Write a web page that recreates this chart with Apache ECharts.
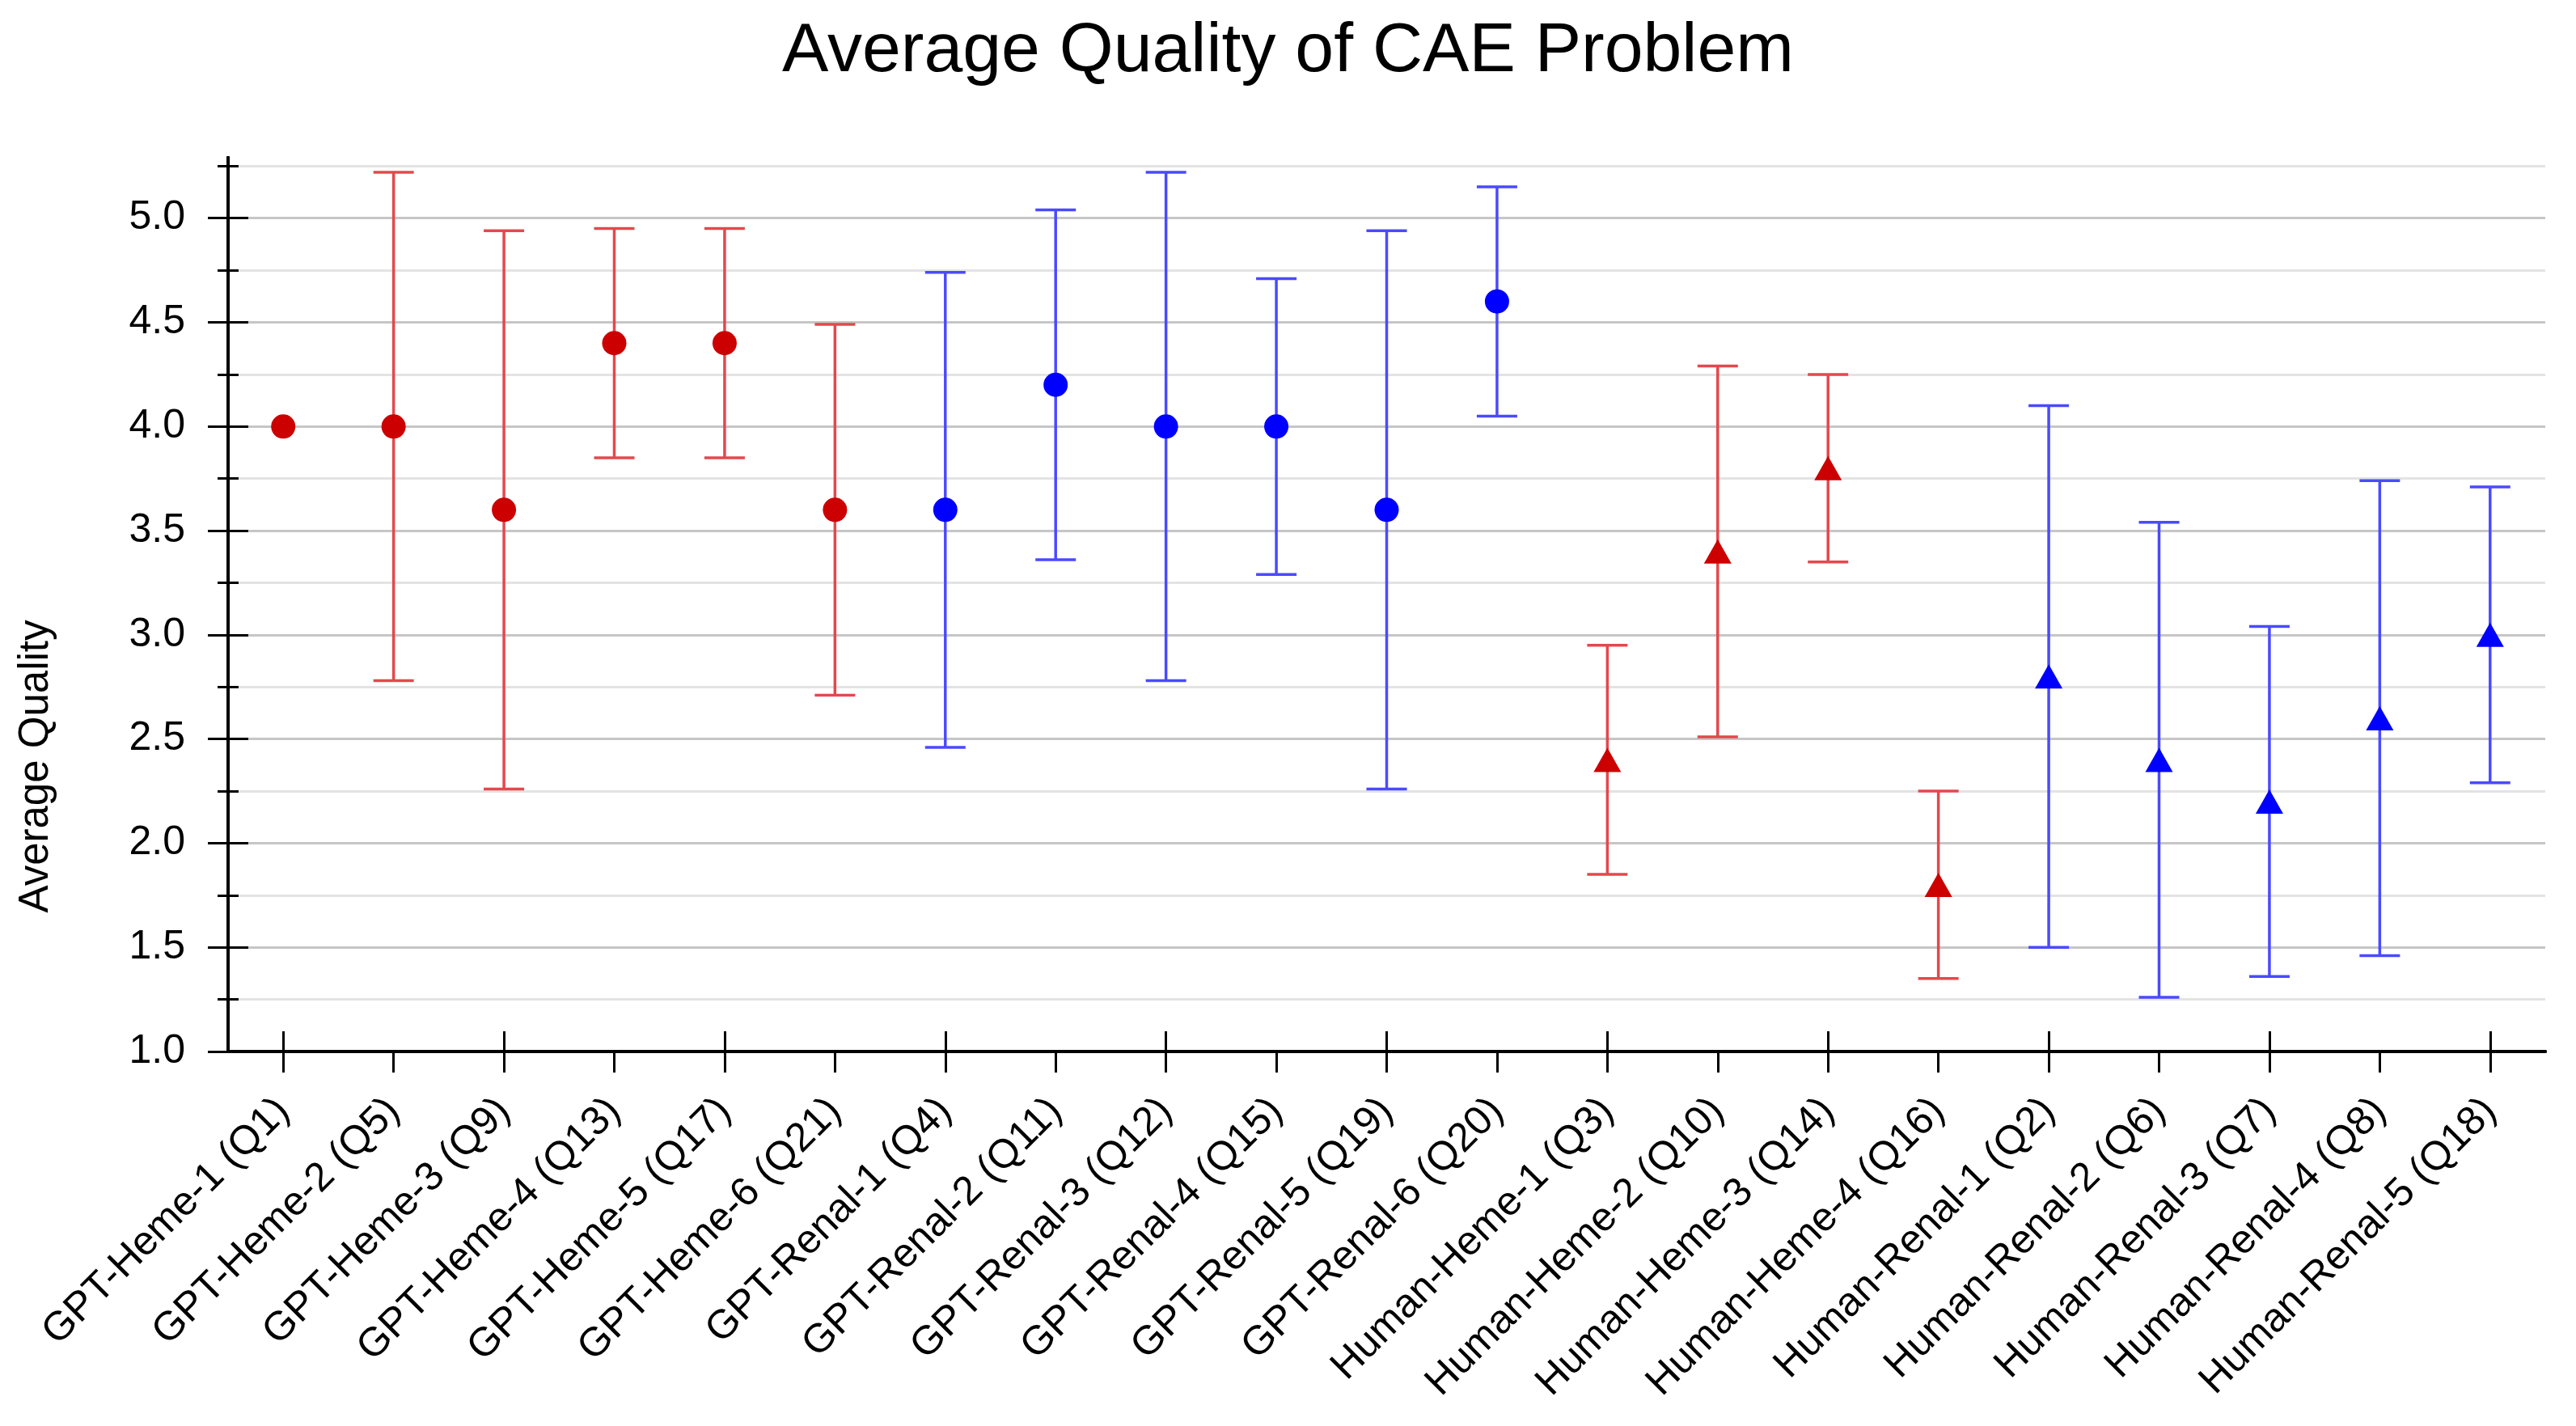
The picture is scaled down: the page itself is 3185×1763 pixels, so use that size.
<!DOCTYPE html>
<html>
<head>
<meta charset="utf-8">
<script src="https://cdn.jsdelivr.net/npm/echarts@6/dist/echarts.min.js"></script>
<style>
html,body{margin:0;padding:0;background:#ffffff;}
#chart{width:3185px;height:1763px;}
</style>
</head>
<body>
<div id="chart"></div>
<script>
// ---------------- data ----------------
const categories = [
  'GPT-Heme-1 (Q1)', 'GPT-Heme-2 (Q5)', 'GPT-Heme-3 (Q9)', 'GPT-Heme-4 (Q13)', 'GPT-Heme-5 (Q17)', 'GPT-Heme-6 (Q21)',
  'GPT-Renal-1 (Q4)', 'GPT-Renal-2 (Q11)', 'GPT-Renal-3 (Q12)', 'GPT-Renal-4 (Q15)', 'GPT-Renal-5 (Q19)', 'GPT-Renal-6 (Q20)',
  'Human-Heme-1 (Q3)', 'Human-Heme-2 (Q10)', 'Human-Heme-3 (Q14)', 'Human-Heme-4 (Q16)',
  'Human-Renal-1 (Q2)', 'Human-Renal-2 (Q6)', 'Human-Renal-3 (Q7)', 'Human-Renal-4 (Q8)', 'Human-Renal-5 (Q18)'
];
const groups = [
  'GPT-Heme', 'GPT-Heme', 'GPT-Heme', 'GPT-Heme', 'GPT-Heme', 'GPT-Heme',
  'GPT-Renal', 'GPT-Renal', 'GPT-Renal', 'GPT-Renal', 'GPT-Renal', 'GPT-Renal',
  'Human-Heme', 'Human-Heme', 'Human-Heme', 'Human-Heme',
  'Human-Renal', 'Human-Renal', 'Human-Renal', 'Human-Renal', 'Human-Renal'
];
const means   = [4.0, 4.0, 3.6, 4.4, 4.4, 3.6,  3.6, 4.2, 4.0, 4.0, 3.6, 4.6,  2.4, 3.4, 3.8, 1.8,  2.8, 2.4, 2.2, 2.6, 3.0];
const errLow  = [null, 2.78, 2.26, 3.85, 3.85, 2.71,  2.46, 3.36, 2.78, 3.29, 2.26, 4.05,  1.85, 2.51, 3.35, 1.35,  1.50, 1.26, 1.36, 1.46, 2.29];
const errHigh = [null, 5.22, 4.94, 4.95, 4.95, 4.49,  4.74, 5.04, 5.22, 4.71, 4.94, 5.15,  2.95, 4.29, 4.25, 2.25,  4.10, 3.54, 3.04, 3.74, 3.71];
const groupNames = ['GPT-Heme', 'GPT-Renal', 'Human-Heme', 'Human-Renal'];
const yMajorTicks = [1.0, 1.5, 2.0, 2.5, 3.0, 3.5, 4.0, 4.5, 5.0];
const yMinorTicks = [1.25, 1.75, 2.25, 2.75, 3.25, 3.75, 4.25, 4.75, 5.25];
const yMin = 1.0;
const yMax = 5.29;

// ---------------- styles ----------------
const FONT = "'Liberation Sans', Arial, Helvetica, sans-serif";
const groupStyle = {
  'GPT-Heme':    { symbol: 'circle',   size: 30,       marker: '#cc0000', bar: '#e4484d' },
  'GPT-Renal':   { symbol: 'circle',   size: 30,       marker: '#0000ff', bar: '#4a4aff' },
  'Human-Heme':  { symbol: 'triangle', size: [34, 30], marker: '#cc0000', bar: '#e4484d' },
  'Human-Renal': { symbol: 'triangle', size: [34, 30], marker: '#0000ff', bar: '#4a4aff' }
};

function makeY(ticks, len, inside, extra) {
  return Object.assign({
    type: 'value', position: 'left', offset: 0, min: yMin, max: yMax,
    axisLine: { show: true, lineStyle: { color: '#000', width: 4 } },
    axisTick: { show: true, inside: inside, length: len, customValues: ticks, lineStyle: { color: '#000', width: 3 } },
    axisLabel: { show: false },
    splitLine: { show: false }
  }, extra || {});
}

const yAxes = [
  makeY(yMajorTicks, 25, false, {
    name: 'Average Quality',
    nameLocation: 'middle',
    nameGap: 212,
    nameTextStyle: { fontSize: 51, color: '#000', fontFamily: FONT, padding: [0, 400, 0, 0] },
    axisLabel: { show: true, customValues: yMajorTicks, formatter: v => v.toFixed(1), fontSize: 50, color: '#000', fontFamily: FONT, margin: 53 },
    splitLine: { show: true, lineStyle: { color: '#c6c6c6', width: 3 } }
  }),
  makeY(yMinorTicks, 13, false, { splitLine: { show: true, lineStyle: { color: '#e3e3e3', width: 3 } } }),
  makeY(yMajorTicks, 25, true),
  makeY(yMinorTicks, 13, true)
];

const xBase = {
  type: 'category', data: categories, position: 'bottom', boundaryGap: true,
  axisLine: { show: true, lineStyle: { color: '#000', width: 4 } },
  splitLine: { show: false }
};
const xAxes = [
  Object.assign({}, xBase, {
    axisTick: { show: true, alignWithLabel: true, length: 26, lineStyle: { color: '#000', width: 3 } },
    axisLabel: { show: true, interval: 0, rotate: 45, fontSize: 50, color: '#000', fontFamily: FONT, margin: 66, padding: [64, 0, 0, 0] }
  }),
  Object.assign({}, xBase, {
    axisTick: { show: true, inside: true, alignWithLabel: true, length: 25, lineStyle: { color: '#000', width: 3 } },
    axisLabel: { show: false }
  })
];

const series = [];
groupNames.forEach(g => {
  const st = groupStyle[g];
  const barData = [];
  categories.forEach((c, i) => {
    if (groups[i] === g && errLow[i] !== null) barData.push([i, errLow[i], errHigh[i]]);
  });
  series.push({
    type: 'custom', name: g + ' error', xAxisIndex: 0, yAxisIndex: 0,
    encode: { x: 0, y: [1, 2] },
    data: barData, z: 2, silent: true,
    renderItem: function (params, api) {
      const x = api.value(0);
      const pLo = api.coord([x, api.value(1)]);
      const pHi = api.coord([x, api.value(2)]);
      const half = 25;
      const style = { stroke: st.bar, lineWidth: 3.5, fill: null };
      return {
        type: 'group',
        children: [
          { type: 'line', shape: { x1: pLo[0], y1: pLo[1], x2: pHi[0], y2: pHi[1] }, style: style },
          { type: 'line', shape: { x1: pHi[0] - half, y1: pHi[1], x2: pHi[0] + half, y2: pHi[1] }, style: style },
          { type: 'line', shape: { x1: pLo[0] - half, y1: pLo[1], x2: pLo[0] + half, y2: pLo[1] }, style: style }
        ]
      };
    }
  });
});
groupNames.forEach(g => {
  const st = groupStyle[g];
  const pts = [];
  categories.forEach((c, i) => { if (groups[i] === g) pts.push([c, means[i]]); });
  series.push({
    type: 'scatter', name: g, xAxisIndex: 0, yAxisIndex: 0,
    symbol: st.symbol, symbolSize: st.size, z: 5,
    itemStyle: { color: st.marker, opacity: 1 },
    data: pts
  });
});

const chart = echarts.init(document.getElementById('chart'), null, { renderer: 'canvas' });
chart.setOption({
  animation: false,
  backgroundColor: '#ffffff',
  title: {
    text: 'Average Quality of CAE Problem',
    left: 'center', top: 16,
    textStyle: { fontSize: 86, fontWeight: 'normal', color: '#000', fontFamily: FONT }
  },
  grid: { left: 282, right: 38, top: 195, bottom: 463, containLabel: false },
  xAxis: xAxes,
  yAxis: yAxes,
  series: series
});
</script>
</body>
</html>
